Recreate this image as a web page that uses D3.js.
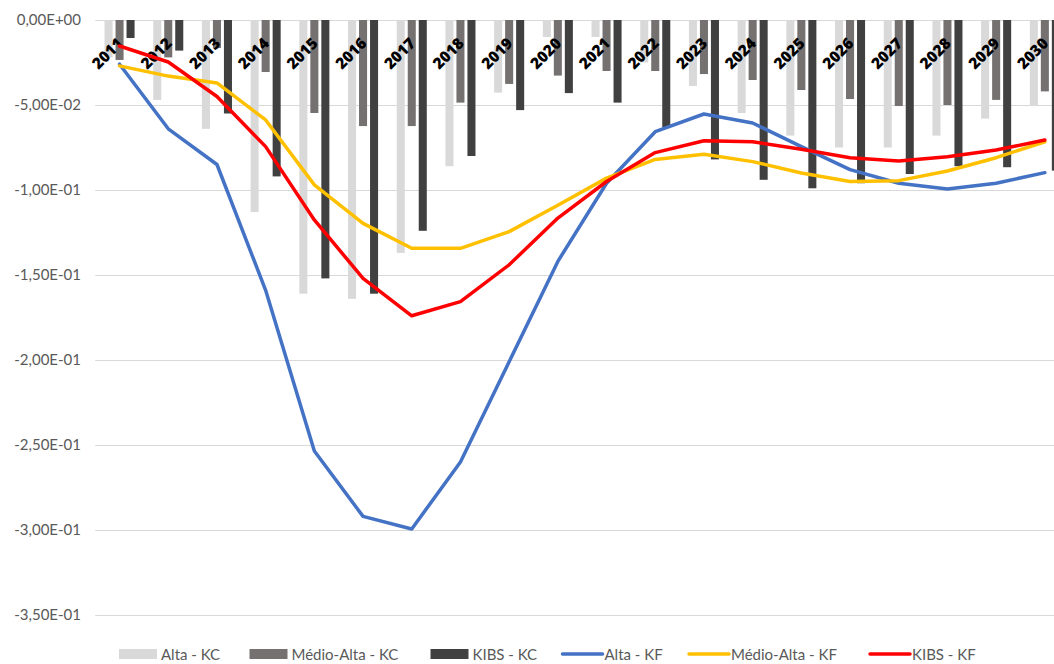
<!DOCTYPE html>
<html>
<head>
<meta charset="utf-8">
<script src="https://cdn.jsdelivr.net/npm/d3@7"></script>
<style>
  html, body { margin: 0; padding: 0; background: #ffffff; }
  svg { display: block; }
</style>
</head>
<body>
<svg id="chart" width="1054" height="664"></svg>
<script>
// Anos (categorias)
const years = ["2011","2012","2013","2014","2015","2016","2017","2018","2019","2020",
               "2021","2022","2023","2024","2025","2026","2027","2028","2029","2030"];

// Barras — KC
const altaKC = [-0.022,-0.047,-0.064,-0.113,-0.161,-0.164,-0.137,-0.086,-0.0427,-0.010,
                -0.010,-0.025,-0.0388,-0.0547,-0.068,-0.075,-0.075,-0.068,-0.058,-0.0506];
const medioAltaKC = [-0.0235,-0.022,-0.0165,-0.0306,-0.0547,-0.0624,-0.0624,-0.0486,-0.0376,-0.0327,
                     -0.030,-0.030,-0.0318,-0.0353,-0.0412,-0.0465,-0.0506,-0.050,-0.047,-0.042];
const kibsKC = [-0.0106,-0.018,-0.055,-0.092,-0.152,-0.161,-0.124,-0.080,-0.053,-0.043,
                -0.0486,-0.063,-0.082,-0.094,-0.099,-0.096,-0.0906,-0.086,-0.0866,-0.0886];

// Linhas — KF
const altaKF = [-0.026,-0.064,-0.085,-0.159,-0.2535,-0.292,-0.2994,-0.260,-0.201,-0.142,
                -0.096,-0.0657,-0.0553,-0.0606,-0.0745,-0.088,-0.096,-0.0994,-0.096,-0.0898];
const medioAltaKF = [-0.027,-0.033,-0.037,-0.0588,-0.097,-0.1196,-0.1343,-0.1343,-0.1245,-0.109,
                     -0.093,-0.082,-0.079,-0.0833,-0.090,-0.095,-0.0945,-0.0888,-0.081,-0.0716];
const kibsKF = [-0.0153,-0.0247,-0.045,-0.0745,-0.1176,-0.152,-0.174,-0.1657,-0.144,-0.1165,
                -0.095,-0.078,-0.071,-0.0716,-0.076,-0.081,-0.083,-0.0804,-0.0765,-0.0706];

// Eixo Y
const yTicks = [0,-0.05,-0.10,-0.15,-0.20,-0.25,-0.30,-0.35];

const barSeries = [
  { name: "Alta - KC",       values: altaKC,      color: "#d9d9d9" },
  { name: "Médio-Alta - KC", values: medioAltaKC, color: "#767171" },
  { name: "KIBS - KC",       values: kibsKC,      color: "#404040" }
];
const lineSeries = [
  { name: "Alta - KF",       values: altaKF,      color: "#4472c4" },
  { name: "Médio-Alta - KF", values: medioAltaKF, color: "#ffc000" },
  { name: "KIBS - KF",       values: kibsKF,      color: "#ff0000" }
];

const svg = d3.select("#chart");
const W = 1054, H = 664;
const plotLeft = 95.2, step = 48.7;
const plotRight = plotLeft + step * years.length;

const x = d3.scaleBand().domain(years).range([plotLeft, plotRight]).padding(0);
const y = d3.scaleLinear().domain([0, -0.35]).range([20, 615]);
const cx = d => x(d) + x.bandwidth() / 2;

const sub = d3.scaleBand()
  .domain(barSeries.map(s => s.name))
  .range([-0.339 * step, 0.339 * step])
  .paddingInner(0.27).paddingOuter(0.135);

// Formato "0,00E+00"
function sci(v) {
  let s = v.toExponential(2);            // e.g. -5.00e-2
  let [m, e] = s.split("e");
  const sign = e[0] === "-" ? "-" : "+";
  e = e.replace(/^[+-]/, "");
  if (e.length < 2) e = "0" + e;
  return m.replace(".", ",") + "E" + sign + e;
}

// Grade horizontal
const grid = svg.append("g");
grid.selectAll("line").data(yTicks).join("line")
  .attr("x1", plotLeft).attr("x2", W)
  .attr("y1", d => Math.round(y(d)) + 0.5).attr("y2", d => Math.round(y(d)) + 0.5)
  .attr("stroke", "#d9d9d9").attr("stroke-width", 1);

// Rótulos do eixo Y
const yAxis = d3.axisLeft(y).tickValues(yTicks).tickFormat(sci).tickSize(0).tickPadding(0);
const gy = svg.append("g").attr("transform", "translate(81,0)").call(yAxis);
gy.select(".domain").remove();
gy.selectAll("text")
  .attr("fill", "#595959")
  .style("font-family", "Lato, 'Open Sans', sans-serif")
  .style("font-size", "15px");

// Barras
const gb = svg.append("g");
barSeries.forEach(s => {
  gb.append("g").selectAll("rect").data(years).join("rect")
    .attr("x", (d) => cx(d) + sub(s.name))
    .attr("y", y(0))
    .attr("width", sub.bandwidth())
    .attr("height", (d, i) => y(s.values[i]) - y(0))
    .attr("fill", s.color);
});

// Rótulos do eixo X (rotacionados)
svg.append("g").selectAll("text").data(years).join("text")
  .attr("transform", d => `translate(${cx(d) - 12.5},53) rotate(-45)`)
  .attr("text-anchor", "middle")
  .attr("dominant-baseline", "central")
  .style("font-family", "'Open Sans', Lato, sans-serif")
  .style("font-weight", "800")
  .style("font-size", "15.5px")
  .attr("fill", "#000")
  .text(d => d);

// Linhas
const line = d3.line().x((d, i) => cx(years[i])).y(d => y(d));
lineSeries.forEach(s => {
  svg.append("path")
    .datum(s.values)
    .attr("d", line)
    .attr("fill", "none")
    .attr("stroke", s.color)
    .attr("stroke-width", 3.5)
    .attr("stroke-linejoin", "round")
    .attr("stroke-linecap", "round");
});

// Legenda
const legend = svg.append("g").attr("transform", "translate(0,654)");
const legendStarts = [119, 249.5, 430.5, 561.5, 688, 869];
const legendItems = barSeries.map(s => ({ ...s, type: "bar" }))
  .concat(lineSeries.map(s => ({ ...s, type: "line" })));
legendItems.forEach((it, i) => {
  const g = legend.append("g").attr("transform", `translate(${legendStarts[i]},0)`);
  if (it.type === "bar") {
    g.append("rect").attr("x", 0).attr("y", -5).attr("width", 38).attr("height", 10).attr("fill", it.color);
  } else {
    g.append("line").attr("x1", 1).attr("x2", 41).attr("y1", 0).attr("y2", 0)
      .attr("stroke", it.color).attr("stroke-width", 3.5).attr("stroke-linecap", "round");
  }
  g.append("text")
    .attr("x", it.type === "bar" ? 42 : 43)
    .attr("dominant-baseline", "central")
    .attr("fill", "#595959")
    .style("font-family", "Lato, 'Open Sans', sans-serif")
    .style("font-size", "15px")
    .text(it.name);
});
</script>
</body>
</html>
